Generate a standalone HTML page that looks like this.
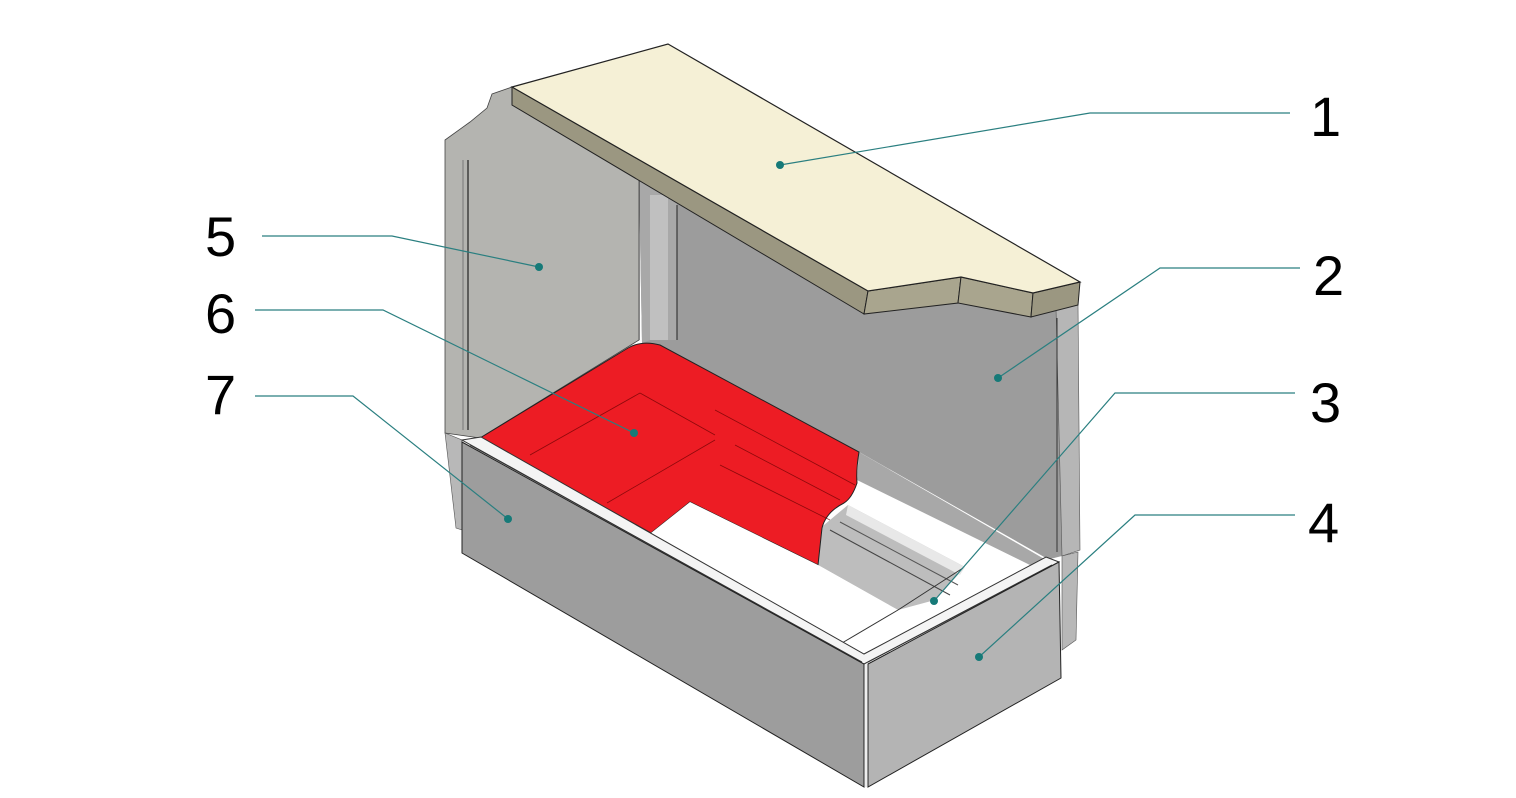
<!DOCTYPE html>
<html><head><meta charset="utf-8"><style>
html,body{margin:0;padding:0;background:#fff;width:1516px;height:798px;overflow:hidden}
svg{display:block}
text{font-family:"Liberation Sans",sans-serif;font-size:56px;fill:#000}
</style></head><body>
<svg width="1516" height="798" viewBox="0 0 1516 798" xmlns="http://www.w3.org/2000/svg">
<polygon points="639,180 864,314 958,303 1031,317 1056,308 1062,556 1046,560 859,452 642,343" fill="#9c9c9c"/>
<polygon points="1056,308 1078,304 1080,550 1062,556" fill="#b6b6b6" stroke="#555" stroke-width="0.6"/>
<line x1="1057" y1="318" x2="1057" y2="552" stroke="#333" stroke-width="1"/>
<polygon points="639,180 677,203 677,340 650,340 642,343" fill="#a8a8a8"/>
<rect x="650" y="195" width="18" height="145" fill="#c0c0c0"/>
<line x1="639" y1="180" x2="639" y2="340" stroke="#222" stroke-width="1.2"/>
<line x1="677" y1="205" x2="677" y2="340" stroke="#222" stroke-width="1"/>
<polygon points="445,140 470,122 487,108 492,94 512,87 512,105 639,180 639,340 480,438 445,433" fill="#b4b4b0" stroke="#444" stroke-width="0.8"/>
<line x1="468" y1="160" x2="468" y2="430" stroke="#222" stroke-width="1.2"/>
<line x1="463" y1="160" x2="463" y2="430" stroke="#777" stroke-width="1"/>
<polygon points="445,433 462,440 462,530 456,528" fill="#b8b8b8" stroke="#555" stroke-width="0.6"/>
<polygon points="1062,556 1078,552 1076,640 1062,650" fill="#b8b8b8" stroke="#555" stroke-width="0.6"/>
<polygon points="481,440 862,655 1046,558 859,452 642,343" fill="#ffffff"/>
<polygon points="818,530 848,505 965,567 935,600 898,610 818,565" fill="#bdbdbd"/>
<polygon points="848,505 965,567 960,575 846,515" fill="#e8e8e8"/>
<line x1="830" y1="530" x2="950" y2="595" stroke="#444" stroke-width="1"/>
<line x1="840" y1="522" x2="958" y2="585" stroke="#555" stroke-width="1"/>
<polygon points="859,452 1046,560 1030,565 857,480" fill="#a8a8a8"/>
<path d="M480,438 L628,348 Q642,340 660,345 L859,452 Q856,470 857,483 Q852,498 844,503 Q826,512 822,528 L818,565 L690,502 L651,533 Z" fill="#ed1c24" stroke="#222" stroke-width="1"/>
<polygon points="651,533 690,502 818,565 898,610 842,643" fill="#fff"/>
<line x1="842" y1="643" x2="898" y2="610" stroke="#333" stroke-width="1"/>
<line x1="898" y1="610" x2="963" y2="568" stroke="#333" stroke-width="1"/>
<g stroke="#600" stroke-width="0.8" fill="none" opacity="0.7">
<line x1="530" y1="455" x2="640" y2="393"/><line x1="640" y1="393" x2="715" y2="435"/>
<line x1="607" y1="503" x2="715" y2="440"/><line x1="735" y1="445" x2="840" y2="500"/>
<line x1="720" y1="465" x2="830" y2="520"/><line x1="715" y1="410" x2="855" y2="485"/>
</g>
<polygon points="462,440 481,437 864,654 1046,557 1059,562 864,664" fill="#f4f4f4" stroke="#333" stroke-width="1"/>
<line x1="470" y1="445" x2="862" y2="662" stroke="#333" stroke-width="1"/>
<line x1="868" y1="662" x2="1052" y2="565" stroke="#333" stroke-width="1"/>
<polygon points="462,442 864,664 864,787 462,553" fill="#9d9d9d" stroke="#222" stroke-width="1"/>
<polygon points="868,664 1059,562 1061,678 868,787" fill="#b4b4b4" stroke="#222" stroke-width="1"/>
<line x1="866" y1="664" x2="866" y2="787" stroke="#eee" stroke-width="2"/>
<polygon points="512,87 868,291 864,314 512,105" fill="#9b9781" stroke="#222" stroke-width="1"/>
<polygon points="868,291 961,277 958,303 864,314" fill="#a9a58e" stroke="#222" stroke-width="1"/>
<polygon points="961,277 1033,293 1031,317 958,303" fill="#a9a58e" stroke="#222" stroke-width="1"/>
<polygon points="1033,293 1080,282 1078,305 1031,317" fill="#9b9781" stroke="#222" stroke-width="1"/>
<polygon points="512,87 668,44 1080,282 1033,293 961,277 868,291" fill="#f5f0d6" stroke="#222" stroke-width="1.2"/>
<g stroke="#2a7f80" stroke-width="1.2" fill="none">
<polyline points="780,165 1090,113 1290,113"/>
<polyline points="998,378 1160,268 1300,268"/>
<polyline points="934,601 1115,393 1295,393"/>
<polyline points="979,657 1135,515 1295,515"/>
<polyline points="539,267 392,236 262,236"/>
<polyline points="634,433 383,310 255,310"/>
<polyline points="508,519 353,396 255,396"/>
</g>
<g fill="#167a78">
<circle cx="780" cy="165" r="4"/><circle cx="998" cy="378" r="4"/><circle cx="934" cy="601" r="4"/>
<circle cx="979" cy="657" r="4"/><circle cx="539" cy="267" r="4"/><circle cx="634" cy="433" r="4"/><circle cx="508" cy="519" r="4"/>
</g>
<text x="1310" y="136">1</text>
<text x="1313" y="295">2</text>
<text x="1310" y="422">3</text>
<text x="1308" y="542">4</text>
<text x="205" y="256">5</text>
<text x="205" y="333">6</text>
<text x="205" y="414">7</text>
</svg>
</body></html>
